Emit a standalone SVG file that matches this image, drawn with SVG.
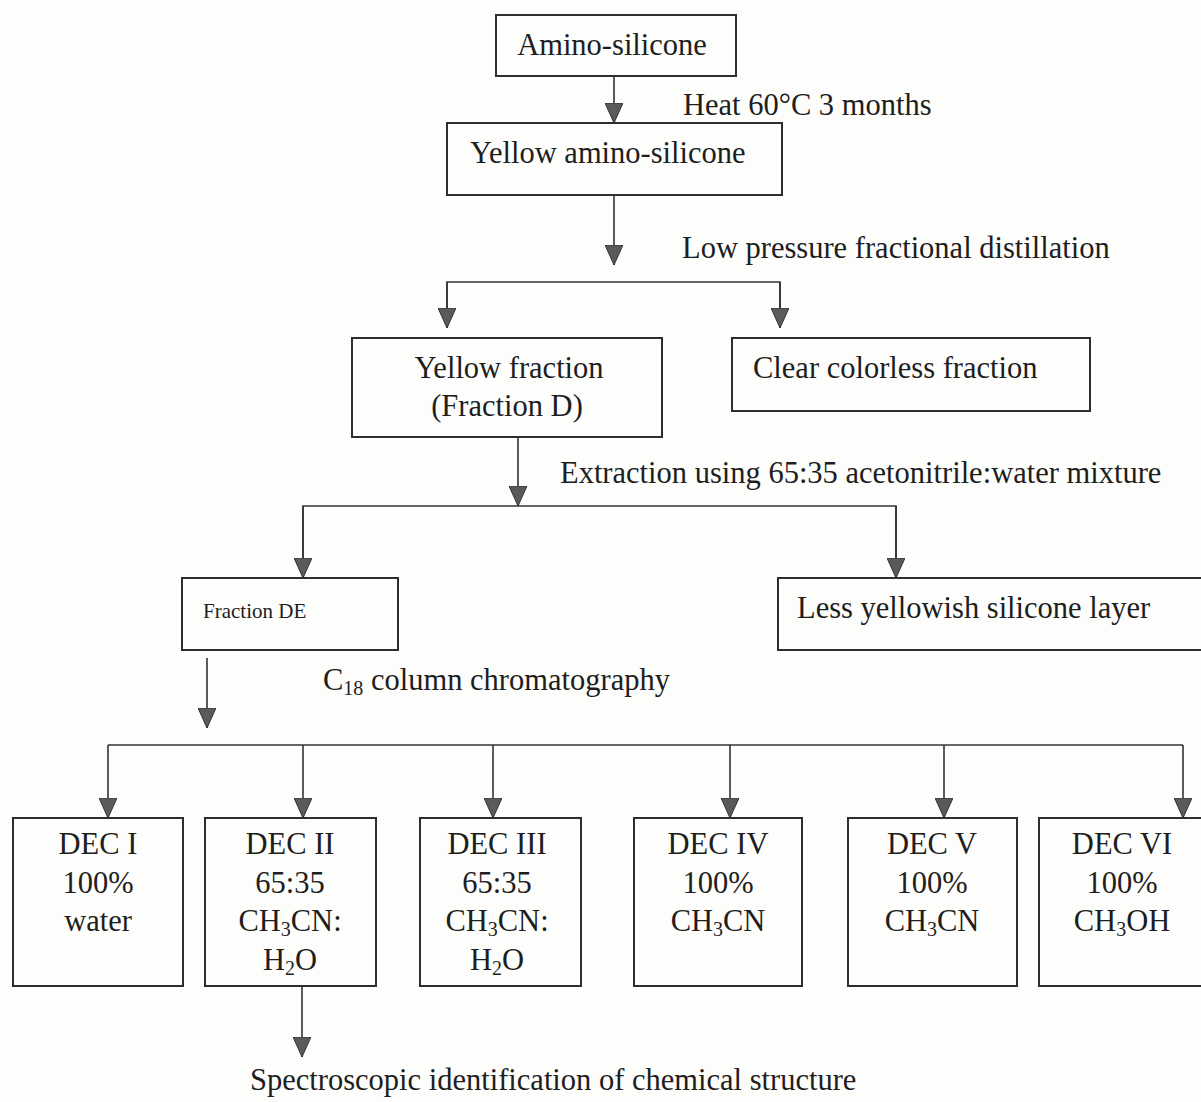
<svg xmlns="http://www.w3.org/2000/svg" width="1201" height="1102" viewBox="0 0 1201 1102">
<style>
  .box{fill:none;stroke:#2e2e2e;stroke-width:2}
  .ln{fill:none;stroke:#333;stroke-width:1.6}
  .t{font-family:"Liberation Serif","Times New Roman",serif;font-size:30.5px;fill:#1e1e1e}
  .m{text-anchor:middle}
  .s{font-size:20px}
</style>
<defs>
  <marker id="ah" viewBox="0 0 20 18" markerWidth="20" markerHeight="18" refX="20" refY="9" orient="auto" markerUnits="userSpaceOnUse">
    <path d="M0,0 L20,9 L0,18 z" fill="#5a5a5a" stroke="#333" stroke-width="1"/>
  </marker>
</defs>
<rect width="1201" height="1102" fill="#fdfdfb"/>

<g id="connectors">
  <line class="ln" x1="614" y1="76" x2="614" y2="123" marker-end="url(#ah)"/>
  <line class="ln" x1="614" y1="195" x2="614" y2="265" marker-end="url(#ah)"/>
  <polyline class="ln" points="447,328 447,282 780,282 780,328"/>
  <line class="ln" x1="447" y1="282" x2="447" y2="328" marker-end="url(#ah)"/>
  <line class="ln" x1="780" y1="282" x2="780" y2="328" marker-end="url(#ah)"/>
  <line class="ln" x1="518" y1="437" x2="518" y2="506" marker-end="url(#ah)"/>
  <polyline class="ln" points="303,578 303,506 896,506 896,578"/>
  <line class="ln" x1="303" y1="506" x2="303" y2="578" marker-end="url(#ah)"/>
  <line class="ln" x1="896" y1="506" x2="896" y2="578" marker-end="url(#ah)"/>
  <line class="ln" x1="207" y1="658" x2="207" y2="728" marker-end="url(#ah)"/>
  <line class="ln" x1="108" y1="745" x2="1183" y2="745"/>
  <line class="ln" x1="108" y1="745" x2="108" y2="818" marker-end="url(#ah)"/>
  <line class="ln" x1="303" y1="745" x2="303" y2="818" marker-end="url(#ah)"/>
  <line class="ln" x1="493" y1="745" x2="493" y2="818" marker-end="url(#ah)"/>
  <line class="ln" x1="730" y1="745" x2="730" y2="818" marker-end="url(#ah)"/>
  <line class="ln" x1="944" y1="745" x2="944" y2="818" marker-end="url(#ah)"/>
  <line class="ln" x1="1183" y1="745" x2="1183" y2="818" marker-end="url(#ah)"/>
  <line class="ln" x1="302" y1="986" x2="302" y2="1057" marker-end="url(#ah)"/>
</g>

<g id="labels">
  <text class="t" x="683" y="115">Heat 60°C 3 months</text>
  <text class="t" x="682" y="258">Low pressure fractional distillation</text>
  <text class="t" x="560" y="483">Extraction using 65:35 acetonitrile:water mixture</text>
  <text class="t" x="323" y="690">C<tspan class="s" dy="5">18</tspan><tspan dy="-5"> column chromatography</tspan></text>
  <text class="t" x="250" y="1090">Spectroscopic identification of chemical structure</text>
</g>

<g id="amino-silicone">
  <rect class="box" x="496" y="15" width="240" height="61"/>
  <text class="t m" x="612" y="55">Amino-silicone</text>
</g>
<g id="yellow-amino-silicone">
  <rect class="box" x="447" y="123" width="335" height="72"/>
  <text class="t" x="470" y="163">Yellow amino-silicone</text>
</g>
<g id="yellow-fraction">
  <rect class="box" x="352" y="338" width="310" height="99"/>
  <text class="t m" x="509" y="378">Yellow fraction</text>
  <text class="t m" x="507" y="416">(Fraction D)</text>
</g>
<g id="clear-colorless-fraction">
  <rect class="box" x="732" y="338" width="358" height="73"/>
  <text class="t" x="753" y="378">Clear colorless fraction</text>
</g>
<g id="fraction-de">
  <rect class="box" x="182" y="578" width="216" height="72"/>
  <text class="t" x="203" y="618" style="font-size:21px">Fraction DE</text>
</g>
<g id="less-yellowish">
  <rect class="box" x="778" y="578" width="430" height="72"/>
  <text class="t" x="797" y="618">Less yellowish silicone layer</text>
</g>

<g id="dec-i">
  <rect class="box" x="13" y="818" width="170" height="168"/>
  <text class="t m" x="98" y="854">DEC I</text>
  <text class="t m" x="98" y="893">100%</text>
  <text class="t m" x="98" y="931">water</text>
</g>
<g id="dec-ii">
  <rect class="box" x="205" y="818" width="171" height="168"/>
  <text class="t m" x="290" y="854">DEC II</text>
  <text class="t m" x="290" y="893">65:35</text>
  <text class="t m" x="290" y="931">CH<tspan class="s" dy="5">3</tspan><tspan dy="-5">CN:</tspan></text>
  <text class="t m" x="290" y="970">H<tspan class="s" dy="5">2</tspan><tspan dy="-5">O</tspan></text>
</g>
<g id="dec-iii">
  <rect class="box" x="420" y="818" width="161" height="168"/>
  <text class="t m" x="497" y="854">DEC III</text>
  <text class="t m" x="497" y="893">65:35</text>
  <text class="t m" x="497" y="931">CH<tspan class="s" dy="5">3</tspan><tspan dy="-5">CN:</tspan></text>
  <text class="t m" x="497" y="970">H<tspan class="s" dy="5">2</tspan><tspan dy="-5">O</tspan></text>
</g>
<g id="dec-iv">
  <rect class="box" x="634" y="818" width="168" height="168"/>
  <text class="t m" x="718" y="854">DEC IV</text>
  <text class="t m" x="718" y="893">100%</text>
  <text class="t m" x="718" y="931">CH<tspan class="s" dy="5">3</tspan><tspan dy="-5">CN</tspan></text>
</g>
<g id="dec-v">
  <rect class="box" x="848" y="818" width="169" height="168"/>
  <text class="t m" x="932" y="854">DEC V</text>
  <text class="t m" x="932" y="893">100%</text>
  <text class="t m" x="932" y="931">CH<tspan class="s" dy="5">3</tspan><tspan dy="-5">CN</tspan></text>
</g>
<g id="dec-vi">
  <rect class="box" x="1039" y="818" width="170" height="168"/>
  <text class="t m" x="1122" y="854">DEC VI</text>
  <text class="t m" x="1122" y="893">100%</text>
  <text class="t m" x="1122" y="931">CH<tspan class="s" dy="5">3</tspan><tspan dy="-5">OH</tspan></text>
</g>
</svg>
